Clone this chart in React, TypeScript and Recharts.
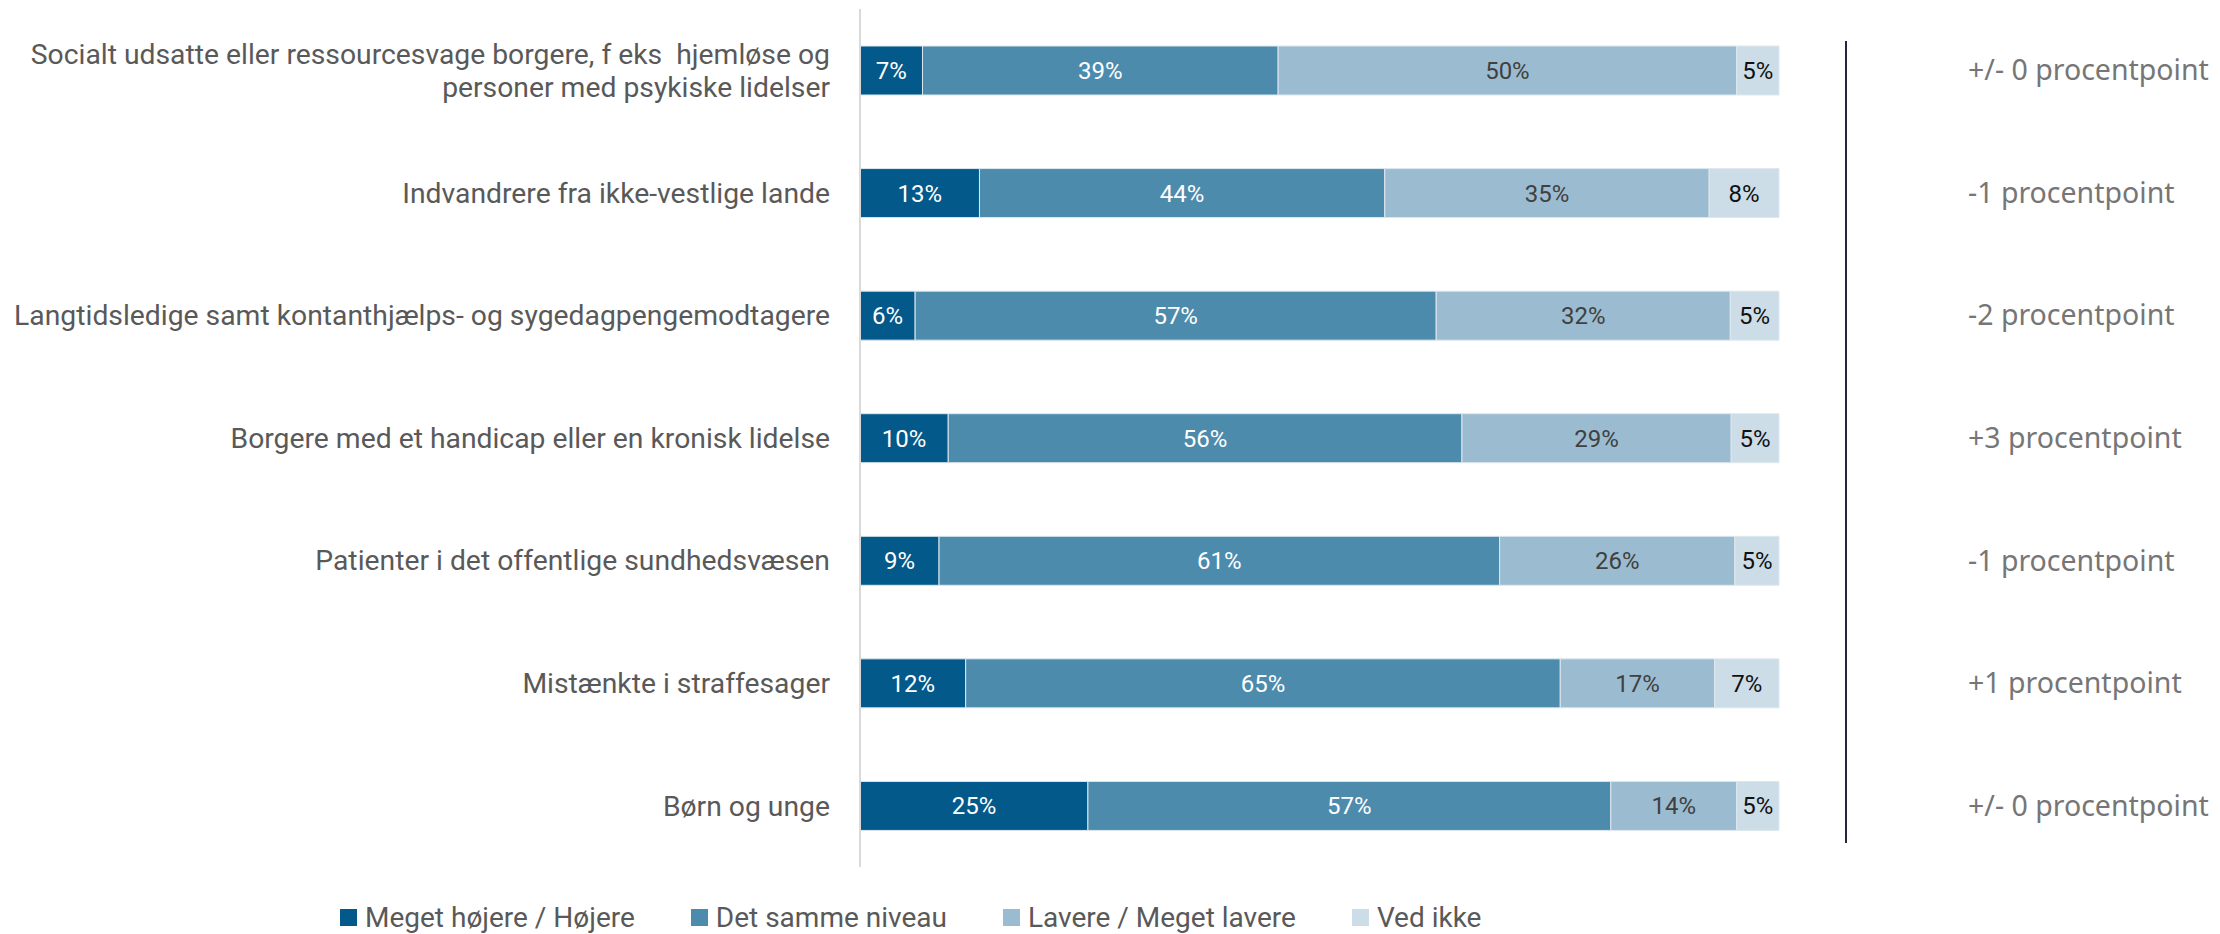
import React from "react";
import { BarChart, Bar, XAxis, YAxis, LabelList, Legend } from "recharts";

const categories = [
  "Socialt udsatte eller ressourcesvage borgere, f eks  hjemløse og\npersoner med psykiske lidelser",
  "Indvandrere fra ikke-vestlige lande",
  "Langtidsledige samt kontanthjælps- og sygedagpengemodtagere",
  "Borgere med et handicap eller en kronisk lidelse",
  "Patienter i det offentlige sundhedsvæsen",
  "Mistænkte i straffesager",
  "Børn og unge",
];
const higher = [6.8, 13.0, 6.0, 9.6, 8.6, 11.5, 24.8];
const same = [38.7, 44.1, 56.7, 55.9, 61.0, 64.7, 56.9];
const lower = [49.9, 35.3, 32.0, 29.3, 25.6, 16.8, 13.7];
const dontKnow = [4.6, 7.6, 5.3, 5.2, 4.8, 7.0, 4.6];
const changes = [
  "+/- 0 procentpoint",
  "-1 procentpoint",
  "-2 procentpoint",
  "+3 procentpoint",
  "-1 procentpoint",
  "+1 procentpoint",
  "+/- 0 procentpoint",
];
const seriesNames = ["Meget højere / Højere", "Det samme niveau", "Lavere / Meget lavere", "Ved ikke"];

const data = categories.map((name, i) => ({
  name,
  higher: higher[i],
  same: same[i],
  lower: lower[i],
  dontKnow: dontKnow[i],
}));

const series = [
  { key: "higher", fill: "#03598a", text: "#ffffff" },
  { key: "same", fill: "#4d8bad", text: "#ffffff" },
  { key: "lower", fill: "#9bbcd0", text: "#404040" },
  { key: "dontKnow", fill: "#ccdde8", text: "#111111" },
];

const CategoryTick = ({ x, y, payload }: any) => {
  const lines = String(payload.value).split("\n");
  const lh = 33;
  const y0 = -((lines.length - 1) * lh) / 2;
  return (
    <text x={x} y={y} textAnchor="end" fill="#595959" fontSize={28.3} fontFamily="Roboto" style={{ whiteSpace: "pre" }}>
      {lines.map((l, i) => (
        <tspan key={i} x={x} y={y + y0 + i * lh} dy="0.35em">
          {l}
        </tspan>
      ))}
    </text>
  );
};

const ChangeTick = ({ x, y, index }: any) => (
  <text x={x} y={y} dy="0.35em" textAnchor="start" fill="#767676" fontSize={28.5} fontFamily="Noto Sans">
    {changes[index]}
  </text>
);

const LegendContent = ({ payload }: any) => {
  const items = [...(payload || [])].sort(
    (a: any, b: any) => seriesNames.indexOf(a.value) - seriesNames.indexOf(b.value)
  );
  return (
    <div style={{ display: "flex", alignItems: "center", gap: 56, fontFamily: "Roboto", fontSize: 28, color: "#595959" }}>
      {items.map((p: any) => (
        <div key={p.value} style={{ display: "flex", alignItems: "center" }}>
          <span style={{ display: "inline-block", width: 17, height: 17, background: p.color, marginRight: 8 }} />
          <span>{p.value}</span>
        </div>
      ))}
    </div>
  );
};

export default function App() {
  return (
    <div style={{ position: "absolute", left: 0, top: 0, width: 2220, height: 934, background: "#fff" }}>
      <BarChart
        width={2220}
        height={934}
        data={data}
        layout="vertical"
        margin={{ top: 9, right: 0, bottom: 67, left: 0 }}
      >
        <XAxis type="number" domain={[0, 100]} hide />
        <YAxis
          yAxisId="left"
          type="category"
          dataKey="name"
          width={860}
          tickSize={0}
          tickMargin={30}
          axisLine={{ stroke: "#d9d9d9", strokeWidth: 2 }}
          tickLine={false}
          tick={<CategoryTick />}
          interval={0}
        />
        <YAxis
          yAxisId="right"
          orientation="right"
          type="category"
          dataKey="name"
          width={441}
          tickSize={0}
          tickMargin={189}
          axisLine={false}
          tickLine={false}
          tick={<ChangeTick />}
          interval={0}
        />
        <Legend
          verticalAlign="middle"
          align="center"
          layout="horizontal"
          wrapperStyle={{ left: 340, top: 901, width: 1400 }}
          content={<LegendContent />}
        />
        {series.map((s, i) => (
          <Bar
            key={s.key}
            yAxisId="left"
            dataKey={s.key}
            name={seriesNames[i]}
            stackId="a"
            fill={s.fill}
            stroke="#dde7ee"
            strokeWidth={1}
            barSize={49}
            isAnimationActive={false}
          >
            <LabelList
              dataKey={s.key}
              position="center"
              formatter={(v: any) => `${Math.round(Number(v))}%`}
              fill={s.text}
              fontSize={24}
              fontFamily="Roboto"
            />
          </Bar>
        ))}
      </BarChart>
      <div style={{ position: "absolute", left: 1845, top: 41, width: 2, height: 802, background: "#262640" }} />
    </div>
  );
}
